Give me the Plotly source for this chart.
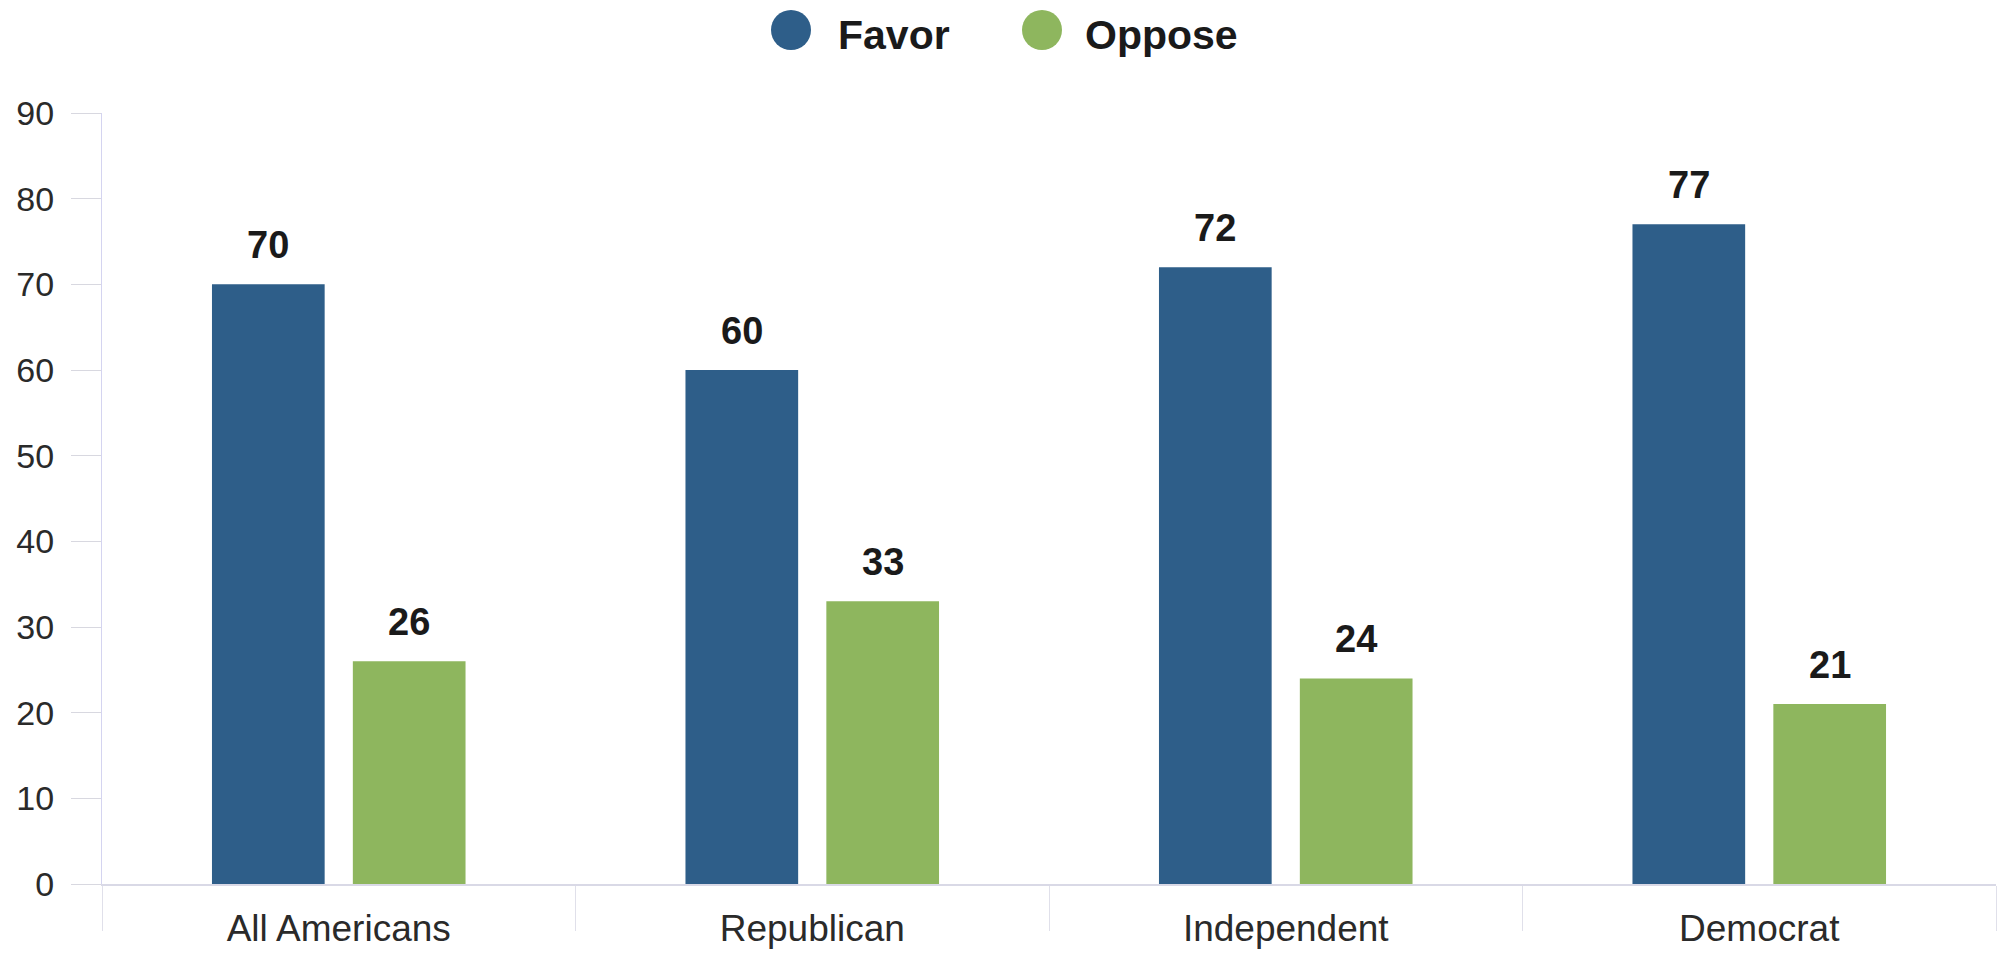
import plotly.graph_objects as go

# Survey responses by party identification (percent)
categories = ["All Americans", "Republican", "Independent", "Democrat"]
favor = [70, 60, 72, 77]
oppose = [26, 33, 24, 21]
y_ticks = [0, 10, 20, 30, 40, 50, 60, 70, 80, 90]

series = [
    ("Favor", favor, "#2E5E89"),
    ("Oppose", oppose, "#8EB65E"),
]

W, H = 2007, 956
M_L, M_R, M_T, M_B = 102, 11, 113, 72
plot_w = W - M_L - M_R
plot_h = H - M_T - M_B

BARGAP = 0.405
GROUPGAP = 0.2
slot = (1 - BARGAP) / len(series)

fig = go.Figure()
for name, vals, color in series:
    fig.add_trace(go.Bar(
        x=categories, y=vals, name=name,
        marker=dict(color=color, line=dict(width=0)),
        showlegend=False,
    ))

# value labels above each bar
annotations = []
for si, (name, vals, color) in enumerate(series):
    offset = -(1 - BARGAP) / 2 + slot * (si + 0.5)
    for ci, v in enumerate(vals):
        annotations.append(dict(
            x=ci + offset, y=v, xref="x", yref="y",
            text=f"<b>{v}</b>", showarrow=False,
            yanchor="bottom", xanchor="center", yshift=16,
            font=dict(family="Liberation Sans, Arial", size=38, color="#1a1a1a"),
        ))

# legend drawn as circle markers with bold labels
legend_px = [(791, 836), (1042, 1083)]
legend_y_px = 30
shapes = []
for (name, vals, color), (cx, tx) in zip(series, legend_px):
    py = 1 + (M_T - legend_y_px) / plot_h
    shapes.append(dict(
        type="circle", xref="paper", yref="paper",
        xsizemode="pixel", ysizemode="pixel",
        xanchor=(cx - M_L) / plot_w, yanchor=py,
        x0=-20, x1=20, y0=-20, y1=20,
        fillcolor=color, line=dict(width=0),
    ))
    annotations.append(dict(
        x=(tx - M_L) / plot_w, y=1 + (M_T - 35) / plot_h,
        xref="paper", yref="paper", xanchor="left", yanchor="middle",
        text=f"<b>{name}</b>", showarrow=False,
        font=dict(family="Liberation Sans, Arial", size=41, color="#1a1a1a"),
    ))

fig.update_layout(
    width=W, height=H,
    margin=dict(l=M_L, r=M_R, t=M_T, b=M_B, pad=0, autoexpand=False),
    paper_bgcolor="white", plot_bgcolor="white",
    barmode="group", bargap=BARGAP, bargroupgap=GROUPGAP,
    showlegend=False,
    annotations=annotations, shapes=shapes,
    font=dict(family="Liberation Sans, Arial", color="#2a2a2a"),
)
fig.update_xaxes(
    type="category", automargin=False,
    showline=True, linecolor="#d9d9e6", linewidth=2,
    ticks="outside", tickson="boundaries", ticklen=45,
    tickcolor="#e0e0ea", tickwidth=1,
    ticklabelstandoff=11,
    tickfont=dict(size=37, color="#2a2a2a"),
    showgrid=False, zeroline=False,
)
fig.update_yaxes(
    range=[0, 90], tickvals=y_ticks, automargin=False,
    showline=True, linecolor="#d4d4f0", linewidth=1,
    ticks="outside", ticklen=30, tickcolor="#d8d8e0", tickwidth=1,
    ticklabelstandoff=10,
    tickfont=dict(size=34, color="#2a2a2a"),
    showgrid=False, zeroline=False,
)

fig.write_html("out.html")
